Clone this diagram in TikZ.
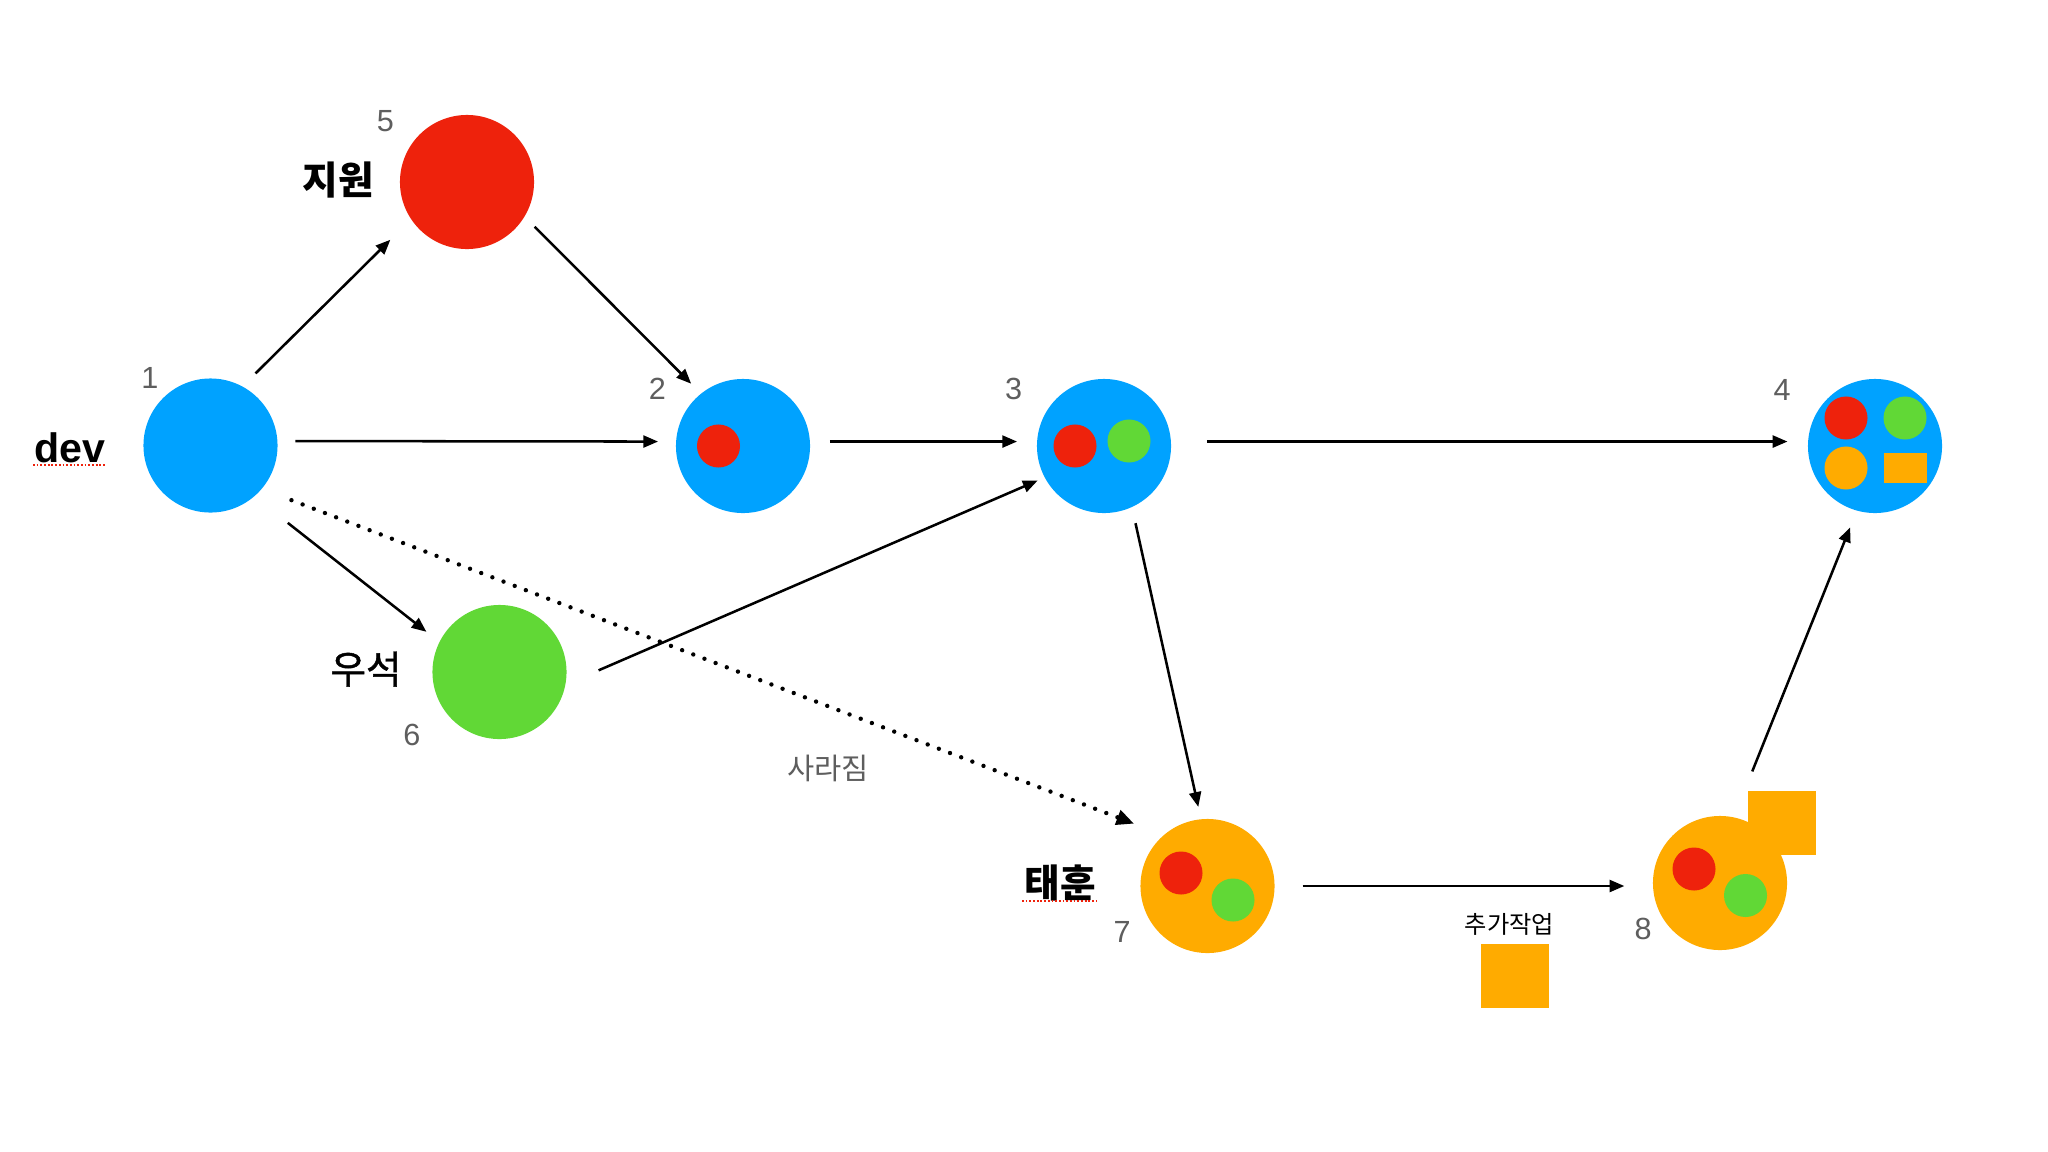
\documentclass[tikz,border=0pt]{standalone}
\usepackage{fontspec}
\setmainfont{Liberation Sans}
\newfontfamily\kr{Noto Sans CJK KR}
\newfontfamily\krmed[FakeBold=1.2]{Noto Sans CJK KR}
\usetikzlibrary{arrows.meta}
\definecolor{cblue}{HTML}{00A2FF}
\definecolor{cred}{HTML}{EE220C}
\definecolor{cgreen}{HTML}{61D836}
\definecolor{corange}{HTML}{FFAB00}
\definecolor{cgray}{HTML}{5E5E5E}
\begin{document}
\begin{tikzpicture}[x=0.01cm,y=-0.01cm,
  state/.style={circle,minimum size=1.34cm,inner sep=0pt,outer sep=0.18cm,draw=none},
  dot/.style={circle,minimum size=0.43cm,inner sep=0pt,outer sep=0pt,draw=none},
  arr/.style={line width=0.72pt,-{Triangle[length=4.2pt,width=3.4pt]}},
  dotarr/.style={line width=1.25pt,dash pattern=on 0pt off 3.4pt,line cap=round,-{Triangle[length=5pt,width=4.2pt]}},
  num/.style={text=cgray,font=\fontsize{8.7pt}{10pt}\selectfont,inner sep=0pt},
  who/.style={font=\kr\bfseries\fontsize{11pt}{13pt}\selectfont,inner sep=0pt},
  whoreg/.style={font=\krmed\fontsize{11pt}{13pt}\selectfont,inner sep=0pt},
  ulred/.style={draw=cred,line width=0.45pt,dash pattern=on 0.5pt off 0.55pt},
]
\useasboundingbox[fill=white] (0,0) rectangle (2048,1151);

% main states
\node[state,fill=cblue]   (n1) at (210.5,445.5) {};
\node[state,fill=cred]    (n5) at (467,182) {};
\node[state,fill=cblue]   (n2) at (743,446) {};
\node[state,fill=cblue]   (n3) at (1104,446) {};
\node[state,fill=cblue]   (n4) at (1875,446) {};
\node[state,fill=cgreen]  (n6) at (499.5,672) {};
\node[state,fill=corange] (n7) at (1207.5,886) {};
\node[state,fill=corange] (n8) at (1720,883) {};

% extra work squares
\node[fill=corange,minimum width=0.675cm,minimum height=0.63cm,inner sep=0pt] (sq8) at (1782,823) {};
\node[fill=corange,minimum width=0.675cm,minimum height=0.63cm,inner sep=0pt] (sqx) at (1515,976) {};

% inner dots
\node[dot,fill=cred]   (d2r) at (718.5,446) {};
\node[dot,fill=cred]   (d3r) at (1075,446) {};
\node[dot,fill=cgreen] (d3g) at (1129,441) {};
\node[dot,fill=cred]   (d4r) at (1846,418) {};
\node[dot,fill=cgreen] (d4g) at (1905,418) {};
\node[dot,fill=corange] (d4o) at (1846,468) {};
\node[fill=corange,minimum width=0.43cm,minimum height=0.30cm,inner sep=0pt] (d4s) at (1905,468) {};
\node[dot,fill=cred]   (d7r) at (1181,873) {};
\node[dot,fill=cgreen] (d7g) at (1233,900) {};
\node[dot,fill=cred]   (d8r) at (1694,869) {};
\node[dot,fill=cgreen] (d8g) at (1745.5,895.5) {};

% labels
\node[font=\bfseries\fontsize{11.7pt}{13pt}\selectfont,inner sep=0pt,anchor=base] (ldev) at (69.5,462) {dev};
\draw[ulred] (33,465) -- (106,465);
\node[who] (l5) at (338,180) {지원};
\node[whoreg] (l6) at (366,669) {우석};
\node[who] (l7) at (1060,883) {태훈};
\draw[ulred] (1022,901) -- (1096,901);
\node[text=cgray,font=\kr\fontsize{8.4pt}{10pt}\selectfont,inner sep=0pt] (lgone) at (828,768) {사라짐};
\node[font=\kr\fontsize{6.9pt}{8pt}\selectfont,inner sep=0pt] (lextra) at (1509.5,924) {추가작업};

\node[num] (k1) at (150,377.5) {1};
\node[num] (k2) at (657.5,389) {2};
\node[num] (k3) at (1013.5,389) {3};
\node[num] (k4) at (1782,390) {4};
\node[num] (k5) at (385.5,121) {5};
\node[num] (k6) at (412,735) {6};
\node[num] (k7) at (1122,932) {7};
\node[num] (k8) at (1643,929) {8};

% connectors
\draw[arr,shorten >=0.11cm] (n1.58) -- (n5.216);
\draw[arr,shorten <=-0.04cm,shorten >=-0.04cm] (n5.-34) -- (n2.130);
\draw[arr] (n1.3) -- (n2.177);
\draw[arr,shorten <=0.02cm,shorten >=0.02cm] (n2.3) -- (n3.177);
\draw[arr,shorten <=0.18cm,shorten >=0.026cm] (n3.3) -- (n4.177);
\draw[arr,shorten <=0.245cm,shorten >=-0.017cm] (n1.-47) -- (n6.151);
\draw[arr,shorten <=0.154cm,shorten >=-0.103cm] (n6.-3) -- (n3.207);
\draw[dotarr,shorten <=0.13cm,shorten >=0.12cm] (n1.-36) -- (n7.137);
\draw[arr,shorten <=-0.017cm,shorten >=-0.054cm] (n3.-68) -- (n7.97);
\draw[arr,shorten <=0.10cm,shorten >=0.106cm] (n7.east) -- (n7.east -| n8.west);
\draw[arr,shorten <=0.313cm] (n8.76) -- (n4.253);
\end{tikzpicture}
\end{document}
